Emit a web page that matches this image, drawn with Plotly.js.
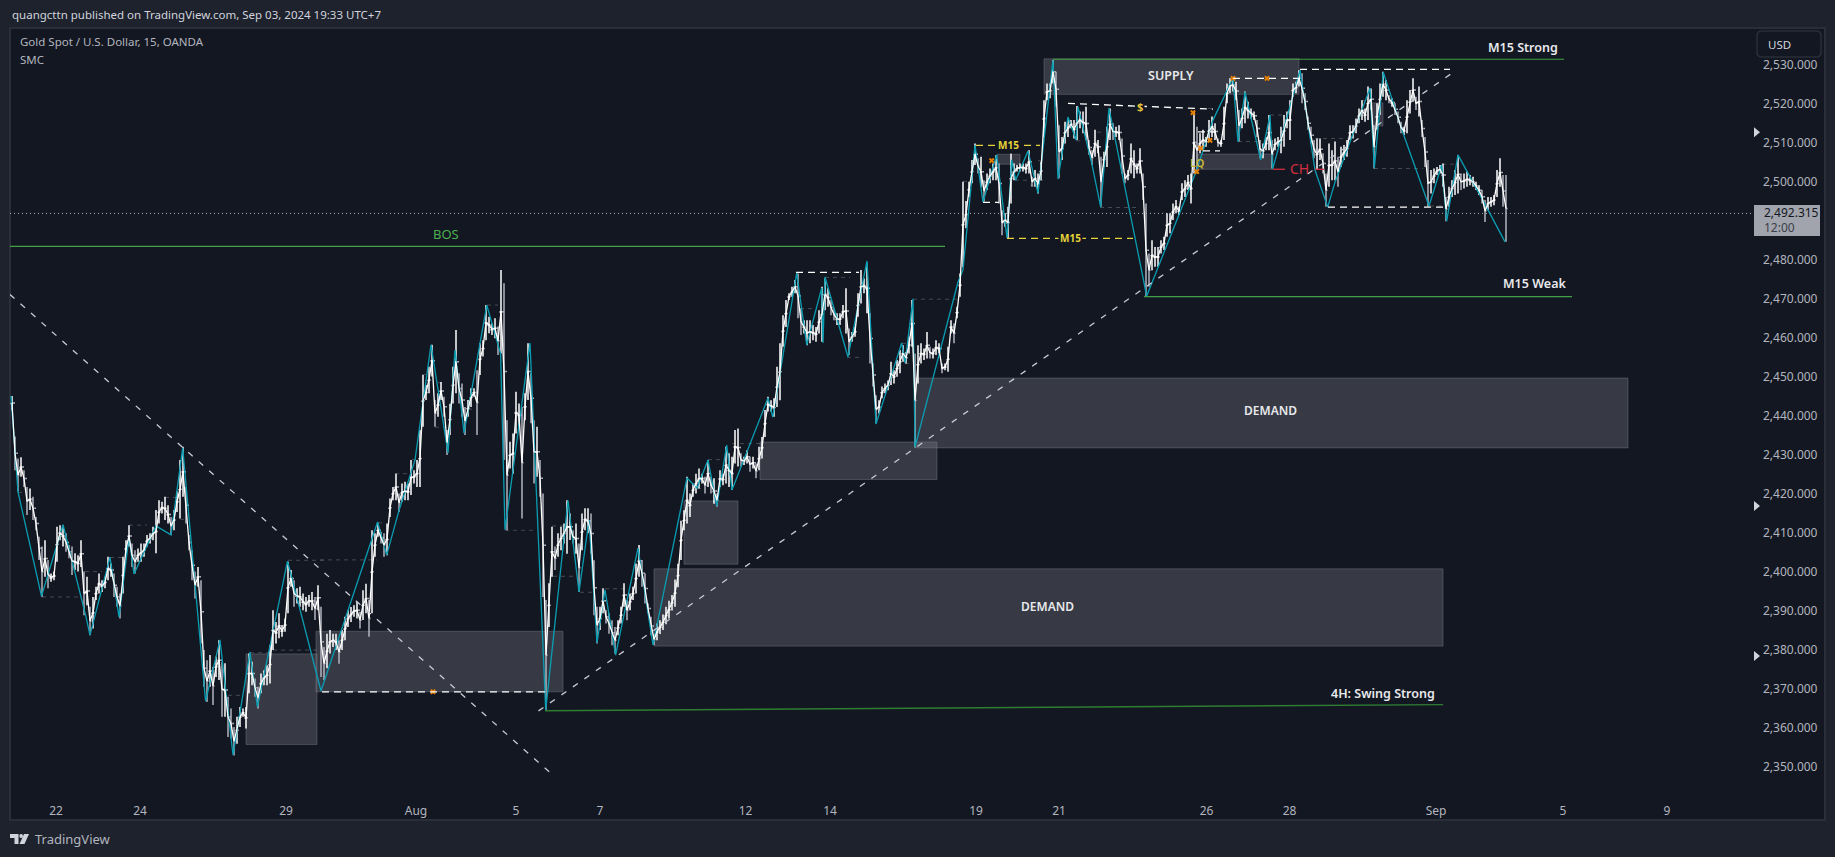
<!DOCTYPE html>
<html>
<head>
<meta charset="utf-8">
<script src="https://cdn.plot.ly/plotly-3.0.1.min.js"></script>
<style>html,body{margin:0;padding:0;background:#1e222d;overflow:hidden}#chart{width:1835px;height:857px}</style>
</head>
<body>
<div id="chart"></div>
<script>
// Time axis: 1 unit = one chart column (weekends removed, as on the source chart)
const dateTickVals = [56,140,286,416,516,600,745.5,830,976,1059,1206.6,1289.6,1436,1563,1667];
const dateTickText = ['22','24','29','Aug','5','7','12','14','19','21','26','28','Sep','5','9'];
const priceTicks = [2350,2360,2370,2380,2390,2400,2410,2420,2430,2440,2450,2460,2470,2480,2500,2510,2520,2530];
const firstBarColumn = 12, barColumnStep = 3;

const barHigh = [
2445,2434.6,2429,2429.3,2426,2421.7,2421.3,2419.2,2414,2408.9,
2406.4,2408,2403,2399.5,2400,2411.5,2411.9,2411.9,2409.8,2406.8,
2406.4,2404.7,2404.2,2408,2400,2398.7,2391,2393.5,2396.1,2399.5,
2397.8,2398.7,2403.8,2402.1,2399.5,2396.1,2394.4,2403.8,2408,2411.9,
2407.2,2405.5,2405.9,2407.2,2407.2,2409.4,2409.8,2411.5,2415.8,2418.3,
2417.9,2419.2,2417,2414,2415.8,2420.5,2428.6,2432,2421.7,2409.4,
2405.5,2400,2401.2,2397.8,2379.9,2377.3,2378.6,2375.6,2378.2,2382.4,
2376.9,2376.5,2367.9,2364.9,2360.2,2362.8,2365.3,2364.9,2365.3,2379,
2376.9,2372.6,2370.5,2373.9,2374.7,2376,2381.1,2390.1,2387.1,2389.3,
2386.3,2388,2402.5,2400.4,2397.8,2395.7,2396.1,2394.4,2393.5,2394,
2394.8,2393.5,2396.5,2391,
2380.7,2384.1,2385,2384.1,2384.1,2382.4,2385,2388.4,2390.1,2390.9,
2391.4,2392.2,2389.7,2395.2,2396.9,2392.7,2410.6,2409.8,2412.3,2410.2,
2409.8,2412.3,2418.7,2421.7,2425.1,2420,2422.6,2423,2422.6,2428.6,
2426,2428.6,2436.3,2450.4,2447.8,2452.5,2458.1,2444,2445.7,2448.6,
2444.8,2436.3,2443,2452.5,2461.9,2450.8,2448.2,2442.2,2444,2447,
2447,2451.6,2458.5,2459.3,2468.3,2465.3,2463.6,2464.9,2462.8,2477.3,
2473.9,2438.8,2433.3,2435.4,2446.1,2443.1,2442.2,2445.7,2458.5,2450.8,
2438.8,2437.1,2428.6,2420,2392.7,2397,2411.5,2406.4,2409.8,2411.5,
2412.3,2418.3,2414.9,2410.6,2412.3,2407.2,2414.9,2416.2,2416.2,2414.9,
2402.9,2391,2391,2395.7,2390.1,2389.3,2387.5,2385.8,2387.5,2391,
2397,2392.7,2394.4,2396.1,2402.1,2406.8,2403,2399.5,2391.8,2388.4,
2384,2386.7,
2387.5,2389,2391,2392.5,2394,2398,2402,2413,2415.7,2424.3,
2420,2422.6,2425.1,2426.4,2425.1,2424.3,2428.6,2424.3,2423.9,2420,
2426,2425.1,2432,2430.3,2429.4,2436.3,2436.7,2430.3,2429.4,2431.1,
2429.4,2429.4,2427.7,2432,2434.5,2441.4,2444.8,2443.9,2444.4,2452.5,
2458.5,2465.7,2469.6,2471.3,2473,2474.7,2476.4,2467.4,2464.4,2464.4,
2464.4,2463.2,2462.7,2467,2473,2475.1,2472.6,2469.6,2467.4,2466.2,
2466.2,2468.3,2472.6,2462.3,2461.4,2462.7,2471.3,2477.3,2475.1,2479,
2466.2,2453.3,2445.2,2443.9,2447.4,2448.2,2449,2453.8,2451.6,2454.2,
2456.8,2458,2456.3,2460.2,2469.6,2455.9,2458,2458.5,2457.2,2461.4,
2457.6,2457.2,2459.3,2458.5,2453.3,2453.3,2457.6,2464.4,2463.6,2467.9,
2476.4,2499.9,2495,
2499.9,2505.5,2509.7,2505.9,2506.3,2500.3,2502,2503.3,2504.6,2506.7,
2504.6,2492.6,2491.8,2493.5,2507.2,2504.6,2504.2,2504.6,2504.6,2504.6,
2508,2501.2,2502.9,2502,2505,2520.8,2525.1,2525.1,2531.1,2528.1,
2514.4,2511.4,2515.3,2516.1,2515.7,2515.7,2519.3,2517.9,2517.9,2519.1,
2510.6,2508,2513.2,2510.6,2506.3,2507.6,2514,2518.7,2514.9,2514,
2514.4,2511,2502,2502.9,2509.7,2508,2504.6,2508.5,2502,2494.3,
2481.5,2484.9,2483.2,2483.2,2484.9,2485.8,2491.8,2491.8,2494.3,2495.2,
2493.5,2499.5,2500.3,2501.6,2502,2517.9,2514,2512.3,2513.2,2511.4,
2515.7,2516.6,2514.9,2511,2510.6,2519.1,2525.1,2526.4,2526.4,2525.5,
2518.3,2518.7,2523,2520.4,2518.7,2517.9,2515.7,2510.6,2509.7,2511.4,
2517,2510.6,2511,2511.4,2514,2517,2517.9,2520.8,2525.1,2525.5,
2528.5,2527.7,2522.6,2516.6,2514,2510.6,2511,2511,2507.2,2502,
2509.7,2508,2510.2,2506.3,2508.9,2509.3,2510.6,2514.4,2514.4,2516.1,
2518.7,2520.8,2518.7,2524.3,2523.8,2514.4,2520,2525.1,2528.1,2526,
2522.1,2521.3,2520,2517.9,2515.3,2514,2520.8,2523.4,2526.4,2521.7,
2524.3,2515.7,2511.4,2505.5,2502.9,2503.3,2503.7,2504.2,2504.6,2496,
2498.6,2500.3,2502.9,2506.7,2502,2502,2502.5,2501.6,2501.2,2499.9,
2499,2497.8,2495.2,2496,2496,2496.5,2502.9,2505.9,2501.6,2501.6
];
const barLow = [
2441.4,2426,2420.5,2424.3,2421.7,2414.5,2415.8,2413.2,2410.6,2403,
2393.5,2398.7,2395.7,2397.4,2397.8,2402.5,2408,2406.4,2405.1,2403.4,
2399.1,2400.4,2400,2401.2,2388.8,2391.4,2383.7,2385.4,2392.7,2394.4,
2394.8,2395.7,2397.8,2398.7,2393.5,2391,2388,2394.4,2403.8,2406.4,
2401.2,2399.5,2402.5,2402.5,2403.8,2406.4,2407.2,2408,2404.7,2412.3,
2414.9,2413.2,2412.3,2409.4,2410.6,2415.3,2413.6,2419.2,2412.3,2405.5,
2397.8,2393.1,2396.1,2381.6,2370.5,2366.6,2370.5,2365.8,2373,2372.2,
2362.8,2362.8,2357.6,2357.2,2352.9,2355.9,2360.2,2362.8,2359.8,2368.8,
2370.9,2367.9,2364.9,2368.8,2370.9,2370.9,2371.3,2379.9,2381.6,2382.9,
2383.3,2384.6,2389.3,2396.1,2391,2391.8,2391,2390.1,2389.7,2391,
2390.1,2387.6,2390.1,2373,
2372.2,2375.2,2379,2380.7,2379.9,2376.4,2379.9,2382.4,2385.8,2387.1,
2388.4,2388,2385.4,2387.6,2389.3,2383.3,2389.3,2403.8,2408.9,2407.2,
2403.8,2404.2,2414,2418.3,2418.3,2415.3,2417.9,2418.3,2418.3,2419.6,
2422.6,2421.7,2421.7,2437.1,2444,2445.7,2450,2437.1,2439.7,2444,
2439.7,2429.9,2435,2443.1,2445.7,2443.1,2439.7,2435,2439.7,2442.2,
2444.8,2435,2450.4,2455.1,2459.3,2461.1,2460.6,2459.8,2455.5,2455.9,
2428.6,2410.6,2426.4,2425.1,2435.4,2437.1,2413.6,2438.8,2444,2438,
2422.6,2424.3,2419.2,2393.5,2364.4,2385.8,2398.7,2400.4,2403.8,2405.5,
2407.2,2404.6,2408.1,2407.2,2404.6,2394.8,2405.5,2410.6,2409.8,2404.6,
2388.8,2381.6,2385,2389.3,2386.7,2384.1,2381.1,2379,2383.7,2386.7,
2391,2387.5,2390.1,2392.7,2394.4,2398.7,2396.1,2391.8,2389.3,2383.7,
2381.2,2382.4,
2384,2385,2386.5,2388,2390,2391,2396,2403,2410.6,2412.3,
2414,2419.2,2420,2421.3,2422.6,2420,2421.7,2420,2417.4,2416.6,
2421.7,2422.1,2422.6,2421.7,2420.9,2427.7,2426.9,2426.9,2427.3,2427.7,
2425.6,2426.4,2423.9,2426,2429,2434.5,2441,2441,2439.7,2442.2,
2443.9,2457.6,2462.7,2469.6,2470.4,2471.3,2464.9,2460.6,2461,2458,
2458.5,2459.3,2458.9,2461,2458.9,2467,2467.9,2465.7,2464.4,2463.2,
2463.2,2464.9,2461,2455.5,2458.9,2460.2,2465.3,2468.7,2471.3,2466.2,
2453.3,2447.4,2438,2440.5,2444.4,2445.7,2446.5,2447.8,2448.2,2449.9,
2450.8,2453.8,2453.3,2455.9,2457.6,2431.8,2448.2,2453.3,2454.2,2454.6,
2454.6,2454.6,2455.5,2455.9,2450.8,2451.6,2451.2,2461,2458.5,2464.9,
2470.4,2478,2488,
2496,2499.5,2504.2,2502,2498.6,2494.8,2497.8,2499.5,2500.3,2500.3,
2494.3,2486.2,2488.4,2485.4,2494.3,2500.3,2502.5,2502.5,2502.5,2502,
2502,2498.6,2498.6,2496.9,2500.3,2511.4,2520.8,2521.3,2525.1,2519.1,
2500.8,2505.5,2509.7,2511.4,2513.6,2511,2510.6,2513.6,2512.3,2510.6,
2506.8,2504.2,2506.3,2507.2,2493.5,2503.7,2503.7,2510.6,2510.6,2511.4,
2510.6,2502,2499.5,2500.3,2502,2500.8,2502,2502,2495.2,2470.4,
2473,2477.2,2478.1,2478.1,2481.5,2482.4,2485.8,2486.7,2490.1,2491.8,
2491.4,2495.2,2496,2497.8,2494.3,2502,2502,2507.2,2508,2508.9,
2510.2,2511.4,2510.6,2508.9,2508.9,2510.6,2520,2522.6,2523,2520.8,
2510.2,2513.6,2514.9,2516.1,2516.1,2515.7,2511.4,2505.9,2505.9,2508,
2508,2503.3,2508,2508.9,2507.2,2508.9,2513.6,2510.6,2521.7,2522.6,
2524.3,2520,2518.3,2513.2,2509.7,2505.9,2502.9,2505.5,2502,2493.5,
2498.6,2500.3,2500.3,2498.6,2503.7,2505.5,2506.3,2510.6,2511,2512.3,
2514.9,2515.7,2515.3,2515.7,2518.3,2503.3,2513.2,2517,2521.7,2520.8,
2520,2519.1,2517,2514.9,2512.3,2511.9,2512.3,2517.4,2520.4,2518.3,
2516.6,2511.4,2503.7,2493.5,2496.9,2499.5,2501.6,2502,2498.6,2489.8,
2493.5,2496,2496.5,2496.9,2497.8,2498.2,2498.6,2499,2498.6,2497.8,
2496.5,2494.3,2489.6,2492.6,2493.5,2493.9,2496,2498.6,2493.5,2484.5
];

const pivotTime = [11,18,41.5,63,86,90,110,119,129,134,156,171,182.7,205.6,220,233,250,257.4,287.5,321,377.6,386.7,398.6,415,431,448,455,464,486.8,500.6,505,530,545.7,568,579,589,597,605,615.6,638,653,687,697,708,716.7,726.7,732,768,772.7,796.7,806.7,821.7,823,825,848,867,876,901.7,905,913,915,958,963,975,983,996.7,1007,1011.7,1015.7,1028,1038,1041.7,1053,1058,1068,1076,1078,1091.7,1100.7,1109,1146.7,1196.7,1213,1233,1238,1245,1260.7,1270,1272.7,1300,1315,1327.7,1335,1370,1374.3,1383.3,1403,1429,1441.7,1446.7,1458,1488,1505];
const pivotPrice = [2445,2420.4,2393.7,2412,2388.4,2383.7,2403.7,2388.4,2408.9,2399.4,2411.7,2409.4,2431.7,2366.8,2382.5,2353,2379.4,2365.3,2402.7,2369.4,2412.7,2404.2,2415.3,2428.6,2458.1,2430.4,2456.8,2435.5,2468.3,2455.8,2410.7,2458.6,2364.5,2418.2,2394.8,2413.2,2381.7,2395.3,2378.6,2406,2381.2,2424,2421.4,2428.6,2416.8,2432.4,2420.9,2444.5,2439.6,2476.5,2458.1,2472.7,2458.6,2475.5,2455,2479.6,2437.8,2458.6,2453.5,2469.9,2431.9,2474.2,2477.3,2509.3,2494.7,2506.8,2485.5,2505.5,2500.3,2507.8,2497,2505.2,2531.1,2500.6,2516.5,2510.6,2519.1,2504.7,2493.4,2518.8,2470.6,2502.9,2515.7,2526.5,2510.1,2522.9,2505.5,2517,2503.2,2528.5,2502.9,2493.4,2499.8,2523.9,2503.4,2528,2512.4,2493.7,2504.2,2489.8,2506.8,2492.7,2484.5];

const zoneStart = [246,316,654,684,760,915,1044,997,1198,1372];
const zoneEnd   = [317,563,1443,738,937,1628,1299,1020,1273,1383];
const zoneTop   = [2378.9,2384.7,2400.7,2418.1,2433.2,2449.6,2531.4,2507,2507,2520.1];
const zoneBase  = [2355.7,2369.2,2380.9,2401.9,2423.6,2431.7,2522.3,2504.4,2503.1,2514.2];

// [start, end, price at start, price at end]
const greenLevels = [[10,945,2483.36,2483.36],[1053,1564,2531.3,2531.3],[1144,1572,2470.44,2470.44]];
const swingLevel  = [545,1443,2364.35,2365.9];
const trendLines  = [[10,554,2471,2347.6],[538.5,1450.7,2364.3,2527.5]];
const whiteLevels = [[322,545.6,2369.2,2369.2],[796,859,2476.7,2476.7],[1068,1213,2520,2518.5],[1233,1300,2526.4,2526.4],[1300,1450,2528.7,2528.7],[1328,1445,2493.4,2493.4],[983,999,2494.6,2494.6],[1203,1220,2507.8,2507.8],[1198,1215,2512.7,2512.7]];
const yellowLevels = [[976,1040,2509.2,2509.2],[1007,1133,2485.4,2485.4]];
const redLevels = [[1273,1285,2503.1,2503.1],[1315,1324,2503.1,2503.1]];
const faintLevels = [[42,80,2393.5],[85,102,2400],[110,125,2403.6],[129,147,2411.9],[165,177,2419],[180,187,2413.4],[228,243,2368.3],[250,270,2379.2],[273,317,2379.9],[288,327,2402.9],[18,23,2420.3],[320,377,2403],[378,385,2412.5],[395,408,2425.1],[412,420,2428.7],[422,428,2450.5],[435,445,2437],[438,445,2448.4],[487,498,2468.3],[468,475,2441.6],[505,537,2410.6],[552,563,2411.7],[553,577,2398.8],[580,593,2394.7],[605,630,2395.6],[708,725,2428.7],[697,703,2421.3],[732,763,2432.8],[800,817,2467.4],[825,850,2475.4],[847,863,2454.9],[902,908,2458.5],[905,910,2453.3],[913,958,2469.8],[963,972,2500],[1015,1043,2500.3],[1030,1035,2499],[1038,1044,2505.3],[1100,1138,2493.3],[1097,1103,2512.6],[1076,1083,2510.4],[1238,1260,2510.2],[1270,1283,2517],[1315,1348,2511],[1361,1367,2520.7],[1374,1423,2503.3],[1430,1445,2493.7],[1442,1458,2504.4],[1200,1213,2518.7]];

const sweepTime  = [433,991.7,1193,1210,1200.7,1196.7,1233,1267];
const sweepPrice = [2369.2,2505.3,2517.6,2510.5,2508.5,2502.5,2526.4,2526.4];
const lastPrice = 2491.8;

// Pane geometry
const W=1835,H=857,L=10,R=1757,T=28,B=820;
const fx=x=>(x-L)/(R-L), fy=y=>1-(y-T)/(B-T);
const barTime = barHigh.map((_,i)=>firstBarColumn+barColumnStep*i);
const mids = barHigh.map((h,i)=>(h+barLow[i])/2);
const barClose = mids;
// only clear drops read as grey bars; everything else as white, like the source
const barOpen = mids.map((m,i)=>(i && mids[i-1]-m>1.6)?mids[i-1]:m-0.1);

const uiFont = '"Noto Sans", "Liberation Sans", sans-serif';
const GREEN='#43a047';

const paper=(o)=>Object.assign({xref:'paper',yref:'paper'},o);
const pRect=(x0,y0,x1,y1,o)=>paper(Object.assign({type:'rect',x0:fx(x0),x1:fx(x1),y0:fy(y0),y1:fy(y1)},o));
const pPath=(pts,o)=>paper(Object.assign({type:'path',path:'M'+pts.map(p=>fx(p[0])+','+fy(p[1])).join('L')+'Z'},o));
function rr(x0,y0,x1,y1,r){const a=fx,b=fy;return 'M'+a(x0+r)+','+b(y0)+'L'+a(x1-r)+','+b(y0)+'Q'+a(x1)+','+b(y0)+' '+a(x1)+','+b(y0+r)+'L'+a(x1)+','+b(y1-r)+'Q'+a(x1)+','+b(y1)+' '+a(x1-r)+','+b(y1)+'L'+a(x0+r)+','+b(y1)+'Q'+a(x0)+','+b(y1)+' '+a(x0)+','+b(y1-r)+'L'+a(x0)+','+b(y0+r)+'Q'+a(x0)+','+b(y0)+' '+a(x0+r)+','+b(y0)+'Z';}
const seg=(s,o)=>Object.assign({type:'line',xref:'x',yref:'y',x0:s[0],x1:s[1],y0:s[2],y1:s.length>3?s[3]:s[2],layer:'above'},o);

const shapes=[
 pRect(10,28,1825,820,{fillcolor:'#131722',line:{color:'#2a2e39',width:2},layer:'below'}),
 ...zoneStart.map((x,i)=>({type:'rect',xref:'x',yref:'y',x0:x,x1:zoneEnd[i],y0:zoneBase[i],y1:zoneTop[i],fillcolor:'rgba(120,123,134,0.36)',line:{color:'rgba(120,123,134,0.45)',width:1},layer:'below'})),
 ...faintLevels.map(s=>seg(s,{line:{color:'rgba(120,123,134,0.5)',width:1,dash:'4px,4px'},layer:'below'})),
 seg([L,1752,lastPrice],{line:{color:'#b2b5be',width:1,dash:'1px,3px'},layer:'below'}),
 ...greenLevels.map(s=>seg(s,{line:{color:GREEN,width:1.2}})),
 seg(swingLevel,{line:{color:'#2e7d32',width:1.4}}),
 ...trendLines.map(s=>seg(s,{line:{color:'#c8cbd3',width:1.3,dash:'6px,8px'}})),
 ...whiteLevels.map(s=>seg(s,{line:{color:'#ffffff',width:1.3,dash:'7px,5px'}})),
 ...yellowLevels.map(s=>seg(s,{line:{color:'#e6d43a',width:1.3,dash:'7px,5px'}})),
 ...redLevels.map(s=>seg(s,{line:{color:'#d32f3f',width:1.3}})),
 pRect(1754,205,1820,236,{fillcolor:'#a1a4ad',line:{width:0},layer:'above'}),
 paper({type:'path',path:rr(1757,31,1821,57,5),fillcolor:'#131722',line:{color:'#2a2e39',width:1.5},layer:'above'}),
 ...[132.3,506,656].map(y=>pPath([[1754,y-5],[1760,y],[1754,y+5]],{fillcolor:'#d1d4dc',line:{width:0},layer:'above'})),
 pPath([[10,834],[18.5,834],[18.5,844],[14.5,844],[14.5,838],[10,838]],{fillcolor:'#d1d4dc',line:{width:0},layer:'above'}),
 paper({type:'circle',x0:fx(19.3),x1:fx(23),y0:fy(834),y1:fy(838),fillcolor:'#d1d4dc',line:{width:0},layer:'above'}),
 pPath([[24,834],[29,834],[24.5,844],[19.5,844]],{fillcolor:'#d1d4dc',line:{width:0},layer:'above'})
];

const ann=(text,x,y,color,size,o)=>Object.assign({text,x:fx(x),y:fy(y),xref:'paper',yref:'paper',showarrow:false,xanchor:'center',yanchor:'middle',font:{family:uiFont,size,color}},o||{});
const bold=(size,color,weight)=>({font:{family:uiFont,size,color,weight}});
const annotations=[
 ann('quangcttn published on TradingView.com, Sep 03, 2024 19:33 UTC+7',10,14.5,'#d1d4dc',11.5,{xanchor:'left'}),
 ann('Gold Spot / U.S. Dollar, 15, OANDA',18,41.5,'#b2b5be',11.5,{xanchor:'left'}),
 ann('SMC',18,59,'#b2b5be',11.5,{xanchor:'left'}),
 ann('BOS',446,234,'#4caf50',13),
 ann('M15 Strong',1523,47,'#e8e9ec',12.5,bold(12.5,'#e8e9ec',600)),
 ann('M15 Weak',1534,283,'#e8e9ec',12.5,bold(12.5,'#e8e9ec',600)),
 ann('4H: Swing Strong',1383,693,'#e8e9ec',12.5,bold(12.5,'#e8e9ec',600)),
 ann('SUPPLY',1171,75.7,'#e8e9ec',12.5,bold(12.5,'#e8e9ec',600)),
 ann('DEMAND',1047.5,606,'#e8e9ec',12,bold(12,'#e8e9ec',600)),
 ann('DEMAND',1270,410.7,'#e8e9ec',12,bold(12,'#e8e9ec',600)),
 ann('CH',1299,168,'#d32f3f',14),
 ann('M15',1008,145.3,'#e6d43a',10,Object.assign({bgcolor:'#131722'},bold(10,'#e6d43a',700))),
 ann('M15',1070,238.3,'#e6d43a',10,Object.assign({bgcolor:'#131722'},bold(10,'#e6d43a',700))),
 ann('$',1140,106,'#e6c33a',11,Object.assign({bgcolor:'#131722'},bold(11,'#e6c33a',700))),
 ann('LQ',1197,162,'#c9b93a',11,bold(11,'#c9b93a',600)),
 ann('USD',1766,44.5,'#d1d4dc',11.5,{xanchor:'left'}),
 ann('2,492.315',1762,213,'#131722',12,{xanchor:'left'}),
 ann('12:00',1762,227,'#3b3f4a',12,{xanchor:'left'}),
 ann('TradingView',33,839,'#b2b5be',13,{xanchor:'left'})
];

const traces=[
 {type:'scatter',mode:'lines',x:pivotTime,y:pivotPrice,line:{color:'#0a9db2',width:1.3},hoverinfo:'skip',showlegend:false},
 {type:'scatter',mode:'lines',x:barTime,y:mids,line:{color:'#ffffff',width:1.3},hoverinfo:'skip',showlegend:false},
 {type:'ohlc',x:barTime,open:barOpen,high:barHigh,low:barLow,close:barClose,tickwidth:0.5,
  increasing:{line:{color:'#ffffff',width:1.5}},decreasing:{line:{color:'#b2b5be',width:1.5}},hoverinfo:'skip',showlegend:false},
 {type:'scatter',mode:'markers',x:sweepTime,y:sweepPrice,marker:{symbol:'x',size:5,color:'#e67e00',line:{width:0}},hoverinfo:'skip',showlegend:false}
];

const layout={
 width:W,height:H,margin:{l:L,r:W-R,t:T,b:H-B,pad:0},
 paper_bgcolor:'#1e222d',plot_bgcolor:'rgba(0,0,0,0)',showlegend:false,
 font:{family:uiFont,color:'#b2b5be',size:12},
 xaxis:{type:'linear',range:[L,R],rangeslider:{visible:false},showgrid:false,zeroline:false,showline:false,ticks:'',
  tickmode:'array',tickvals:dateTickVals,ticktext:dateTickText,ticklabelposition:'inside',tickfont:{family:uiFont,size:12,color:'#b2b5be'}},
 yaxis:{type:'linear',side:'right',range:[2350-(B-766.7)/3.902,2530+(64.3-T)/3.902],showgrid:false,zeroline:false,showline:false,ticks:'',
  tickmode:'array',tickvals:priceTicks,ticktext:priceTicks.map(v=>v.toLocaleString('en-US')+'.000'),tickfont:{family:uiFont,size:12,color:'#b2b5be'},ticklabelstandoff:5},
 shapes,annotations
};
Plotly.newPlot('chart',traces,layout,{staticPlot:true,displayModeBar:false});
</script>
</body>
</html>
